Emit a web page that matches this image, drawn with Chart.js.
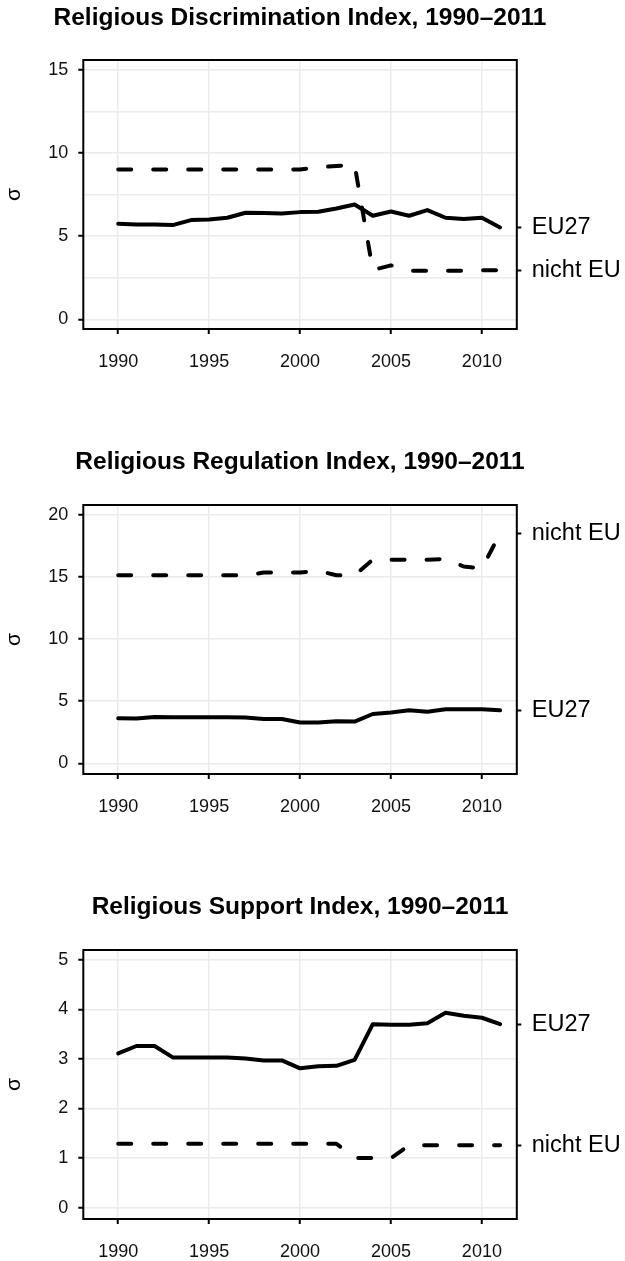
<!DOCTYPE html>
<html lang="de">
<head>
    <meta charset="utf-8">
    <title>Religion Indizes 1990-2011</title>
    <script src="https://cdn.jsdelivr.net/npm/chart.js@4.4.1/dist/chart.umd.min.js"></script>
    <style>
        html, body {
            margin: 0;
            padding: 0;
            background: #fff;
        }
        body {
            position: relative;
            width: 625px;
            height: 1261px;
            overflow: hidden;
        }
        /* canvas is 25px wider on the left so the title centres over the panel */
        .panel {
            position: absolute;
            left: -25px;
            width: 650px;
            height: 371px;
        }
    </style>
</head>
<body>
    <div class="panel" style="top:0px"><canvas id="disc"></canvas></div>
    <div class="panel" style="top:445px"><canvas id="reg"></canvas></div>
    <div class="panel" style="top:890px"><canvas id="sup"></canvas></div>
    <script>
        const years = [1990, 1991, 1992, 1993, 1994, 1995, 1996, 1997, 1998, 1999, 2000,
                       2001, 2002, 2003, 2004, 2005, 2006, 2007, 2008, 2009, 2010, 2011];
        const xTicks = [1990, 1995, 2000, 2005, 2010];
        const seriesNames = ['EU27', 'nicht EU'];

        // Religious Discrimination Index
        const discEU = [5.75, 5.71, 5.71, 5.67, 5.97, 6.01, 6.11, 6.41, 6.39, 6.37, 6.45,
                        6.47, 6.67, 6.91, 6.23, 6.49, 6.23, 6.57, 6.11, 6.03, 6.11, 5.53];
        const discNonEU = [9.02, 9.02, 9.02, 9.02, 9.02, 9.02, 9.02, 9.02, 9.02, 9.02, 9.02,
                           9.15, 9.22, 9.30, 2.97, 3.25, 2.93, 2.93, 2.93, 2.93, 2.95, 2.95];
        const discTicks = [0, 5, 10, 15];
        const discMinor = [2.5, 7.5, 12.5];

        // Religious Regulation Index
        const regEU = [3.62, 3.60, 3.73, 3.70, 3.70, 3.70, 3.70, 3.68, 3.57, 3.57, 3.28,
                       3.28, 3.38, 3.36, 3.97, 4.10, 4.27, 4.16, 4.35, 4.35, 4.35, 4.27];
        const regNonEU = [15.14, 15.14, 15.14, 15.14, 15.14, 15.14, 15.14, 15.14, 15.36, 15.36, 15.36,
                          15.50, 15.14, 15.14, 16.40, 16.40, 16.40, 16.40, 16.46, 15.85, 15.70, 18.50];
        const regTicks = [0, 5, 10, 15, 20];

        // Religious Support Index
        const supEU = [3.11, 3.26, 3.26, 3.03, 3.03, 3.03, 3.03, 3.01, 2.97, 2.97, 2.81,
                       2.85, 2.86, 2.98, 3.70, 3.69, 3.69, 3.72, 3.93, 3.87, 3.83, 3.70];
        const supNonEU = [1.29, 1.29, 1.29, 1.29, 1.29, 1.29, 1.29, 1.29, 1.29, 1.29, 1.29,
                          1.29, 1.29, 1.00, 1.00, 1.00, 1.26, 1.26, 1.26, 1.26, 1.26, 1.26];
        const supTicks = [0, 1, 2, 3, 4, 5];

        Chart.defaults.font.family = '"Liberation Sans", Arial, Helvetica, sans-serif';
        Chart.defaults.color = '#111';

        // black panel border like ggplot's theme_bw
        const framePlugin = {
            id: 'frame',
            afterDraw(chart) {
                const a = chart.chartArea;
                const ctx = chart.ctx;
                ctx.save();
                ctx.strokeStyle = '#000';
                ctx.lineWidth = 2;
                ctx.strokeRect(a.left, a.top, a.right - a.left, a.bottom - a.top);
                ctx.restore();
            }
        };

        function toPoints(values) {
            return years.map((yr, i) => ({ x: yr, y: values[i] }));
        }

        function createPanel(id, title, eu, nonEu, yMin, yMax, majors, minors, titleTop) {
            const allY = majors.concat(minors).sort((a, b) => a - b);
            const ends = [eu[eu.length - 1], nonEu[nonEu.length - 1]];

            return new Chart(document.getElementById(id), {
                type: 'line',
                data: {
                    datasets: [{
                        label: seriesNames[0],
                        data: toPoints(eu),
                        borderColor: '#000',
                        borderWidth: 4,
                        borderJoinStyle: 'round',
                        borderCapStyle: 'round',
                        pointRadius: 0,
                        tension: 0
                    }, {
                        label: seriesNames[1],
                        data: toPoints(nonEu),
                        borderColor: '#000',
                        borderWidth: 4,
                        borderDash: [13, 22],
                        borderJoinStyle: 'round',
                        borderCapStyle: 'round',
                        pointRadius: 0,
                        tension: 0
                    }]
                },
                options: {
                    responsive: true,
                    maintainAspectRatio: false,
                    animation: false,
                    layout: {
                        padding: 0
                    },
                    plugins: {
                        legend: { display: false },
                        tooltip: { enabled: false },
                        title: {
                            display: true,
                            text: title,
                            color: '#000',
                            font: { size: 24.5, weight: 'bold', lineHeight: 1.2 },
                            padding: { top: titleTop, bottom: 60 - titleTop - 29.4 }
                        }
                    },
                    scales: {
                        x: {
                            type: 'linear',
                            min: 1988.08,
                            max: 2011.92,
                            afterBuildTicks: s => { s.ticks = xTicks.map(v => ({ value: v })); },
                            afterFit: s => { s.height = 42; },
                            ticks: {
                                autoSkip: false,
                                maxRotation: 0,
                                padding: 17.5,
                                font: { size: 18 },
                                callback: v => String(v)
                            },
                            grid: {
                                color: '#EBEBEB',
                                lineWidth: 1.5,
                                tickColor: '#000',
                                tickWidth: 2,
                                tickLength: 5
                            },
                            border: { display: false }
                        },
                        y: {
                            type: 'linear',
                            position: 'left',
                            min: yMin,
                            max: yMax,
                            afterBuildTicks: s => { s.ticks = allY.map(v => ({ value: v })); },
                            afterFit: s => { s.width = 108.3; },
                            title: {
                                display: true,
                                text: 'σ',
                                color: '#000',
                                font: { size: 21 },
                                padding: { top: 26.5, bottom: 0 }
                            },
                            ticks: {
                                autoSkip: false,
                                padding: 10,
                                font: { size: 18 },
                                callback: v => majors.includes(v) ? String(v) : ''
                            },
                            grid: {
                                color: '#EBEBEB',
                                lineWidth: 1.5,
                                tickColor: ctx => majors.includes(ctx.tick.value) ? '#000' : 'rgba(0,0,0,0)',
                                tickWidth: 2,
                                tickLength: 5
                            },
                            border: { display: false }
                        },
                        y2: {
                            type: 'linear',
                            position: 'right',
                            min: yMin,
                            max: yMax,
                            afterBuildTicks: s => { s.ticks = ends.map(v => ({ value: v })); },
                            afterFit: s => { s.width = 650 - 541.8; },
                            ticks: {
                                autoSkip: false,
                                padding: 10.5,
                                color: '#000',
                                font: { size: 23.5 },
                                callback: (v, i) => seriesNames[i]
                            },
                            grid: {
                                drawOnChartArea: false,
                                tickColor: '#000',
                                tickWidth: 2,
                                tickLength: 4.5
                            },
                            border: { display: false }
                        }
                    }
                },
                plugins: [framePlugin]
            });
        }

        createPanel('disc', 'Religious Discrimination Index, 1990\u20132011', discEU, discNonEU,
                    -0.58, 15.6, discTicks, discMinor, 3.4);
        createPanel('reg', 'Religious Regulation Index, 1990\u20132011', regEU, regNonEU,
                    -0.86, 20.8, regTicks, [], 2.6);
        createPanel('sup', 'Religious Support Index, 1990\u20132011', supEU, supNonEU,
                    -0.228, 5.196, supTicks, [], 2.6);
    </script>
</body>
</html>
